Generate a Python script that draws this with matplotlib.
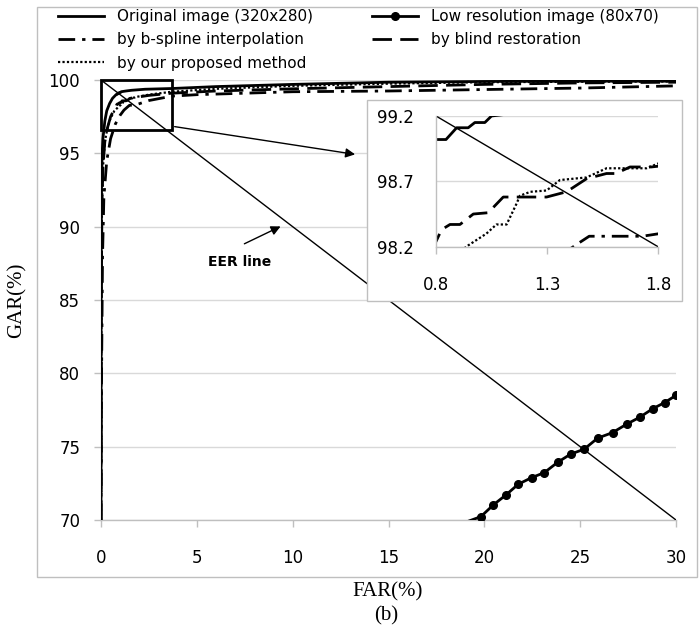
import matplotlib
matplotlib.use("Agg")
import matplotlib.pyplot as plt
from matplotlib.patches import Rectangle

# ---------------- data ----------------
orig_far = [0, 0.01, 0.03, 0.06, 0.1, 0.2, 0.3, 0.45, 0.6, 0.8, 0.845, 0.893, 0.945, 0.975,
            1.02, 1.05, 1.3, 1.6, 2.3, 3.7, 6, 10, 15, 20, 25, 30]
orig_gar = [70, 88, 93, 95, 96, 97.2, 97.9, 98.4, 98.75, 99.02, 99.02, 99.11, 99.11, 99.15,
            99.15, 99.2, 99.25, 99.3, 99.37, 99.42, 99.55, 99.7, 99.85, 99.9, 99.92, 99.92]

low_far = [18.5, 19.82, 20.47, 21.13, 21.77, 22.47, 23.13, 23.83, 24.50, 25.21, 25.91,
           26.69, 27.42, 28.1, 28.8, 29.4, 30.0]
low_gar = [69.6, 70.23, 71.03, 71.71, 72.44, 72.89, 73.23, 73.94, 74.49, 74.83, 75.58,
           75.96, 76.53, 77.0, 77.6, 78.0, 78.5]

bspl_far = [0, 0.03, 0.08, 0.15, 0.3, 0.5, 0.75, 1.0, 1.2, 1.445, 1.49, 1.73, 1.806,
            2.5, 3.7, 5, 10, 15, 20, 25, 30]
bspl_gar = [70, 80, 88, 92, 94.5, 96, 97.0, 97.6, 97.95, 98.23, 98.28, 98.28, 98.30,
            98.6, 98.9, 99.0, 99.2, 99.25, 99.35, 99.45, 99.6]

blind_far = [0, 0.02, 0.05, 0.1, 0.2, 0.35, 0.5, 0.65, 0.8, 0.825, 0.863, 0.908, 0.968,
             1.035, 1.103, 1.298, 1.388, 1.478, 1.568, 1.61, 1.674, 1.77, 2.5, 3.7, 6,
             10, 15, 20, 25, 30]
blind_gar = [70, 86, 91.5, 94, 95.8, 96.8, 97.5, 97.9, 98.24, 98.33, 98.37, 98.37, 98.45,
             98.46, 98.58, 98.58, 98.62, 98.72, 98.76, 98.76, 98.81, 98.81, 98.95, 99.1,
             99.25, 99.4, 99.55, 99.7, 99.8, 99.85]

prop_far = [0, 0.02, 0.05, 0.1, 0.2, 0.35, 0.5, 0.7, 0.945, 1.027, 1.072, 1.118, 1.163,
            1.178, 1.225, 1.298, 1.358, 1.478, 1.568, 1.748, 1.806, 2.5, 3.7, 6, 10, 15,
            20, 25, 30]
prop_gar = [70, 85, 91, 94, 95.8, 96.8, 97.4, 97.9, 98.21, 98.30, 98.37, 98.37, 98.53,
            98.59, 98.62, 98.63, 98.71, 98.73, 98.80, 98.80, 98.84, 99.0, 99.2, 99.4,
            99.6, 99.75, 99.85, 99.88, 99.9]

eer_far = [0, 30]
eer_gar = [100, 70]

labels = ["Original image (320x280)", "by b-spline interpolation", "by our proposed method",
          "Low resolution image (80x70)", "by blind restoration"]

main_xticks = [0, 5, 10, 15, 20, 25, 30]
main_yticks = [70, 75, 80, 85, 90, 95, 100]
inset_xticks = [0.8, 1.3, 1.8]
inset_yticks = [98.2, 98.7, 99.2]

# ---------------- styles ----------------
SANS = ["DejaVu Sans"]
SERIF = ["Liberation Serif", "DejaVu Serif"]
GRID = "#d9d9d9"
SPINE = "#bfbfbf"

styles = {
    "orig": dict(color="black", lw=2.0, ls="-"),
    "bspl": dict(color="black", lw=2.0, ls=(0, (6, 2.5, 1.2, 2.5))),
    "prop": dict(color="black", lw=1.6, ls=(0, (1, 1))),
    "blind": dict(color="black", lw=2.0, ls=(0, (7, 3))),
    "low": dict(color="black", lw=2.0, ls="-", marker="o", ms=5.5),
}

W, H = 700, 637
fig = plt.figure(figsize=(7.0, 6.37), dpi=100)

def fx(px):
    return px / W

def fy(py):
    return 1 - py / H

# outer chart frame
fig.patches.append(Rectangle((fx(37), fy(577)), fx(697) - fx(37), fy(7) - fy(577),
                             transform=fig.transFigure, fill=False, edgecolor=SPINE, lw=1.0))

# ---------------- main axes ----------------
ax = fig.add_axes([fx(101), fy(520), fx(676) - fx(101), fy(80) - fy(520)])
ax.set_xlim(0, 30)
ax.set_ylim(70, 100)
ax.set_xticks(main_xticks)
ax.set_yticks(main_yticks)
for s in ["top", "right"]:
    ax.spines[s].set_visible(False)
for s in ["left", "bottom"]:
    ax.spines[s].set_color(SPINE)
    ax.spines[s].set_linewidth(1.0)
ax.tick_params(axis="both", colors=SPINE, length=5, width=1.0, labelcolor="black",
               labelsize=12)
ax.tick_params(axis="x", pad=16)
ax.tick_params(axis="y", pad=10)
for lab in ax.get_xticklabels() + ax.get_yticklabels():
    lab.set_family(SANS)
ax.yaxis.grid(True, color=GRID, lw=1.0)
ax.set_axisbelow(True)

ax.plot(eer_far, eer_gar, color="black", lw=1.0, zorder=3)
ax.plot(orig_far, orig_gar, label=labels[0], zorder=4, **styles["orig"])
ax.plot(bspl_far, bspl_gar, label=labels[1], zorder=4, **styles["bspl"])
ax.plot(prop_far, prop_gar, label=labels[2], zorder=4, **styles["prop"])
ax.plot(low_far, low_gar, label=labels[3], zorder=4, **styles["low"])
ax.plot(blind_far, blind_gar, label=labels[4], zorder=4, **styles["blind"])

ax.add_patch(Rectangle((0, 96.6), 3.7, 3.4, fill=False, edgecolor="black", lw=2.0, zorder=5,
                       clip_on=False))
ax.annotate("", xy=(13.4, 94.9), xytext=(3.7, 96.85),
            arrowprops=dict(arrowstyle="-|>", color="black", lw=1.0, mutation_scale=14))
ax.annotate("", xy=(9.5, 90.1), xytext=(7.35, 88.75),
            arrowprops=dict(arrowstyle="-|>", color="black", lw=1.0, mutation_scale=14))
ax.text(7.25, 87.6, "EER line", ha="center", va="center", fontsize=10,
        fontweight="bold", family=SANS)

ax.set_ylabel("GAR(%)", family=SERIF, fontsize=15)
ax.set_xlabel("FAR(%)", family=SERIF, fontsize=15)
ax.yaxis.set_label_coords(fx(17), (fy(80) + fy(520)) / 2, transform=fig.transFigure)
ax.xaxis.set_label_coords(fx(388), fy(592), transform=fig.transFigure)
ax.xaxis.label.set_va("center")
ax.yaxis.label.set_va("center")
fig.text(fx(386), fy(616), "(b)", ha="center", va="center", family=SERIF, fontsize=15)

# legend
handles, labs = ax.get_legend_handles_labels()
leg = fig.legend(handles, labs, loc="upper left", ncol=2, frameon=False,
                 bbox_to_anchor=(fx(58), fy(9)), bbox_transform=fig.transFigure,
                 borderpad=0, borderaxespad=0, handlelength=3.0, handletextpad=0.85,
                 columnspacing=3.9, labelspacing=0.55, numpoints=1,
                 prop=dict(family=SANS, size=11))

# ---------------- inset ----------------
fig.patches.append(Rectangle((fx(367), fy(301)), fx(682) - fx(367), fy(100) - fy(301),
                             transform=fig.transFigure, facecolor="white", edgecolor=SPINE,
                             lw=1.0, zorder=2))
ins = fig.add_axes([fx(436), fy(246.7), fx(658) - fx(436), fy(116) - fy(246.7)], zorder=3)
ins.set_xlim(0.8, 1.8)
ins.set_ylim(98.2, 99.2)
ins.set_xticks(inset_xticks)
ins.set_yticks(inset_yticks)
ins.set_xticklabels([f"{v:.1f}" for v in inset_xticks])
ins.set_yticklabels([f"{v:.1f}" for v in inset_yticks])
for s in ["top", "right"]:
    ins.spines[s].set_visible(False)
for s in ["left", "bottom"]:
    ins.spines[s].set_color(SPINE)
    ins.spines[s].set_linewidth(1.0)
ins.tick_params(axis="x", colors=SPINE, length=5, width=1.0, labelcolor="black",
                labelsize=12, pad=16)
ins.tick_params(axis="y", colors=SPINE, length=0, labelcolor="black", labelsize=12, pad=16)
for lab in ins.get_xticklabels() + ins.get_yticklabels():
    lab.set_family(SANS)
ins.yaxis.grid(True, color=GRID, lw=1.0)
ins.set_axisbelow(True)
ins.plot(eer_far, eer_gar, color="black", lw=1.0)
ins.plot(orig_far, orig_gar, **styles["orig"])
ins.plot(bspl_far, bspl_gar, **styles["bspl"])
ins.plot(prop_far, prop_gar, **styles["prop"])
ins.plot(blind_far, blind_gar, **styles["blind"])

fig.savefig("out.png", dpi=100)
